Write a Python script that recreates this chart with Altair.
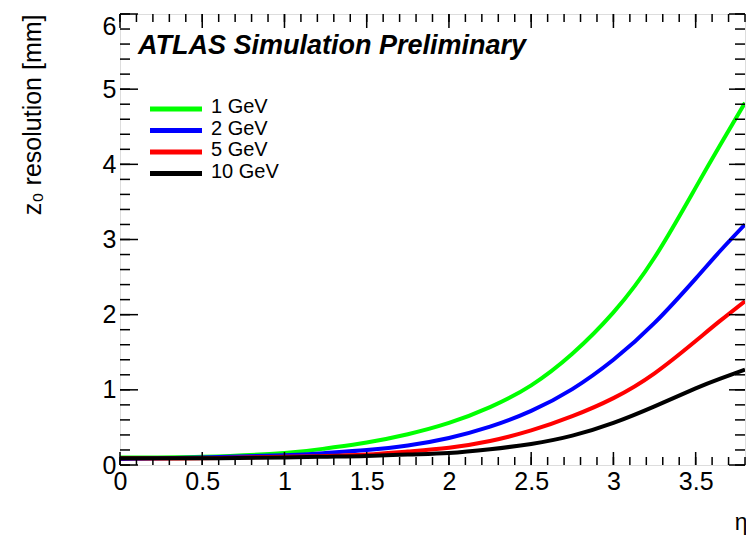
import altair as alt
import pandas as pd

# ---- data ----
eta = [0.0, 0.5, 1.0, 1.25, 1.5, 1.75, 2.0, 2.25, 2.5, 2.75, 3.0, 3.25, 3.5, 3.65, 3.8]
res_1gev = [0.10, 0.11, 0.16, 0.22, 0.30, 0.41, 0.56, 0.77, 1.06, 1.48, 2.03, 2.76, 3.69, 4.26, 4.82]
res_2gev = [0.08, 0.10, 0.13, 0.16, 0.20, 0.26, 0.36, 0.51, 0.72, 1.01, 1.40, 1.89, 2.48, 2.85, 3.20]
res_5gev = [0.09, 0.09, 0.11, 0.12, 0.14, 0.18, 0.23, 0.32, 0.46, 0.65, 0.89, 1.22, 1.65, 1.92, 2.18]
res_10gev = [0.09, 0.09, 0.10, 0.11, 0.12, 0.14, 0.16, 0.21, 0.28, 0.39, 0.56, 0.78, 1.02, 1.15, 1.27]

labels = ["1 GeV", "2 GeV", "5 GeV", "10 GeV"]
colors = ["#00ff00", "#0000ff", "#ff0000", "#000000"]
series = [res_1gev, res_2gev, res_5gev, res_10gev]

x_tick_labels = [0, 0.5, 1, 1.5, 2, 2.5, 3, 3.5]
x_minor = [round(i * 0.1, 2) for i in range(0, 39)]
y_tick_labels = [0, 1, 2, 3, 4, 5, 6]
y_minor = [round(i * 0.2, 2) for i in range(0, 31)]

W, H = 625, 451
FONT = "Liberation Sans, Arial, Helvetica, sans-serif"

rows = []
for lab, vals in zip(labels, series):
    for e, v in zip(eta, vals):
        rows.append({"eta": e, "res": v, "pt": lab})
df = pd.DataFrame(rows)

xscale = alt.Scale(domain=[0, 3.8], nice=False, zero=False)
yscale = alt.Scale(domain=[0, 6], nice=False)

lines = alt.Chart(df).mark_line(strokeWidth=4, interpolate="natural", clip=True).encode(
    x=alt.X("eta:Q", scale=xscale,
            axis=alt.Axis(values=x_tick_labels, format="~g", title="η",
                          titleFontSize=23, titleFont=FONT, titleFontWeight="normal",
                          titleAnchor="end", titleAlign="right", titleBaseline="alphabetic",
                          titleX=W + 2, titleY=64,
                          labelFontSize=25, labelFont=FONT, labelPadding=4,
                          labelFlush=False, ticks=False, tickSize=0, domain=False, grid=False,
                          labelColor="black", titleColor="black")),
    y=alt.Y("res:Q", scale=yscale,
            axis=alt.Axis(values=y_tick_labels, format="~g", title="z₀ resolution [mm]",
                          titleFontSize=25, titleFont=FONT, titleFontWeight="normal",
                          titleAngle=270, titleAlign="right", titleBaseline="alphabetic",
                          titleX=-80, titleY=0,
                          labelFontSize=25, labelFont=FONT, labelPadding=4,
                          labelBaseline=alt.expr("datum.value == 6 ? 'top' : 'middle'"),
                          labelFlush=False, ticks=False, tickSize=0, domain=False, grid=False,
                          labelColor="black", titleColor="black")),
    color=alt.Color("pt:N", scale=alt.Scale(domain=labels, range=colors), legend=None),
    detail="pt:N",
)

tick_color = "black"


def yticks(vals, length, side):
    d = pd.DataFrame({"res": vals})
    if side == "left":
        xa, xb = 0, length
    else:
        xa, xb = W - length, W
    return alt.Chart(d).mark_rule(color=tick_color, strokeWidth=1.5).encode(
        y=alt.Y("res:Q", scale=yscale),
        x=alt.value(xa), x2=alt.value(xb))


def xticks(vals, length, side):
    d = pd.DataFrame({"eta": vals})
    if side == "bottom":
        ya, yb = H - length, H
    else:
        ya, yb = 0, length
    return alt.Chart(d).mark_rule(color=tick_color, strokeWidth=1.5).encode(
        x=alt.X("eta:Q", scale=xscale),
        y=alt.value(ya), y2=alt.value(yb))


tick_layers = [
    yticks(y_minor, 10, "left"), yticks(y_tick_labels, 18, "left"),
    yticks(y_minor, 10, "right"), yticks(y_tick_labels, 16, "right"),
    xticks(x_minor, 8, "bottom"), xticks(x_tick_labels, 13, "bottom"),
    xticks(x_minor, 8, "top"), xticks(x_tick_labels, 14, "top"),
]

atlas = alt.Chart(pd.DataFrame({"t": ["ATLAS Simulation Preliminary"]})).mark_text(
    align="left", baseline="alphabetic", fontSize=27, font=FONT,
    fontStyle="italic", fontWeight="bold", color="black"
).encode(x=alt.value(18), y=alt.value(40), text="t:N")

legend_layers = []
for i, (lab, col) in enumerate(zip(labels, colors)):
    ly = 95 + 21.5 * i
    one = pd.DataFrame({"label": [lab]})
    legend_layers.append(
        alt.Chart(one).mark_rule(color=col, strokeWidth=5).encode(
            x=alt.value(30), x2=alt.value(82), y=alt.value(ly)))
    legend_layers.append(
        alt.Chart(one).mark_text(align="left", baseline="middle", fontSize=20,
                                 font=FONT, color="black").encode(
            x=alt.value(91), y=alt.value(ly - 2), text="label:N"))

chart = alt.layer(lines, *tick_layers, atlas, *legend_layers).properties(
    width=W, height=H,
    autosize=alt.AutoSizeParams(type="none"),
    padding={"left": 112, "top": 6, "right": 1, "bottom": 75},
).configure_view(stroke="black", strokeWidth=2).configure(background="white")

chart.save("out.html", embed_options={"renderer": "svg", "actions": False})
